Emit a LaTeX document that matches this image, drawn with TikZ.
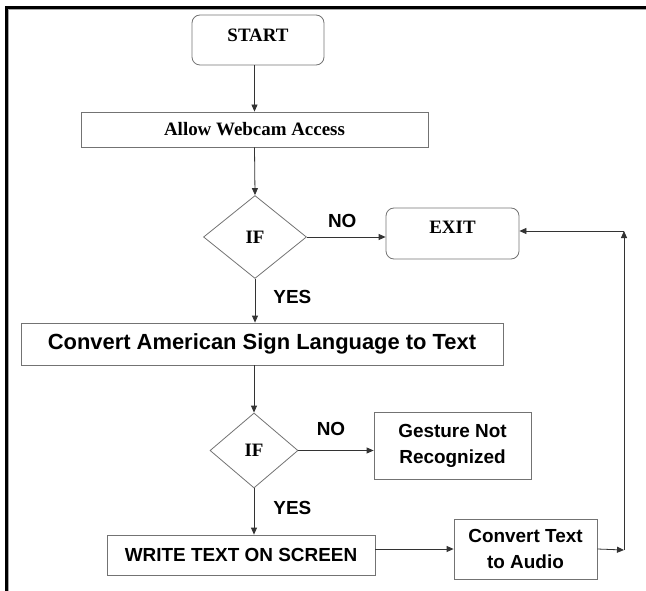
\documentclass[tikz,border=0pt]{standalone}
\usepackage{fontspec}
\setmainfont{Liberation Serif}
\setsansfont{Liberation Sans}
\usetikzlibrary{shapes.geometric,arrows.meta}

\begin{document}
\begin{tikzpicture}[x=1bp,y=-1bp,
    >={Triangle[length=7bp,width=6bp]},
    box/.style={draw=black!55,line width=0.8bp,inner sep=0pt,align=center,
      font=\sffamily\bfseries\fontsize{19}{26}\selectfont},
    rbox/.style={box,rounded corners=8bp,font=\bfseries\fontsize{19}{22}\selectfont},
    cond/.style={box,diamond,font=\bfseries\fontsize{19}{22}\selectfont},
    link/.style={->,draw=black!80,line width=0.8bp},
    lbl/.style={midway,inner sep=0pt,font=\sffamily\bfseries\fontsize{19}{22}\selectfont}]
  \useasboundingbox (0,0) rectangle (646,591);
  \draw[line width=3bp] (6.5,591) |- (646,7.5);
  \draw[black!35,line width=1bp] (8.5,591) |- (646,9.5);

  \node[rbox,minimum width=132bp,minimum height=50bp,text depth=10bp] (start) at (258,40) {START};
  \node[box,font=\bfseries\fontsize{19}{22}\selectfont,minimum width=347bp,minimum height=35bp] (cam) at (254.5,129.5) {Allow Webcam Access};
  \node[cond,minimum width=103bp,minimum height=83bp] (if1) at (255,237) {IF};
  \node[rbox,minimum width=133bp,minimum height=51bp,text depth=13bp] (exit) at (452.5,233.5) {EXIT};
  \node[box,font=\sffamily\bfseries\fontsize{22}{26}\selectfont,minimum width=482bp,minimum height=42bp] (asl) at (262,344) {Convert American Sign Language to Text};
  \node[cond,minimum width=88bp,minimum height=75bp] (if2) at (254,450.5) {IF};
  \node[box,minimum width=157bp,minimum height=67bp] (gest) at (452.5,445.5) {Gesture Not\\Recognized};
  \node[box,minimum width=268bp,minimum height=40bp] (write) at (241,555) {WRITE TEXT ON SCREEN};
  \node[box,minimum width=143bp,minimum height=60bp] (audio) at (525.5,549) {Convert Text\\to Audio};
  \coordinate (rt) at (624,550);
  \coordinate (up) at (624,231);

  \draw[link] (cam.north |- start.south) -- (cam.north);
  \draw[link] (cam.south) -- (if1.north);
  \draw[link] (if1.east) -- (if1.east -| exit.west) node[lbl,above=9bp,xshift=-4bp] {NO};
  \draw[link] (if1.south) -- (if1.south |- asl.north) node[lbl,right=18bp,yshift=4bp] {YES};
  \draw[link] (if2.north |- asl.south) -- (if2.north);
  \draw[link] (if2.east) -- (if2.east -| gest.west) node[lbl,above=14bp,xshift=-5bp] {NO};
  \draw[link] (if2.south) -- (if2.south |- write.north) node[lbl,right=19bp,yshift=4bp] {YES};
  \draw[link] (write.east |- audio.west) -- (audio.west);
  \draw[link] (audio.east) -- (rt);
  \draw[link] (rt) -- (up);
  \draw[link] (up) -- (up -| exit.east);
\end{tikzpicture}
\end{document}
